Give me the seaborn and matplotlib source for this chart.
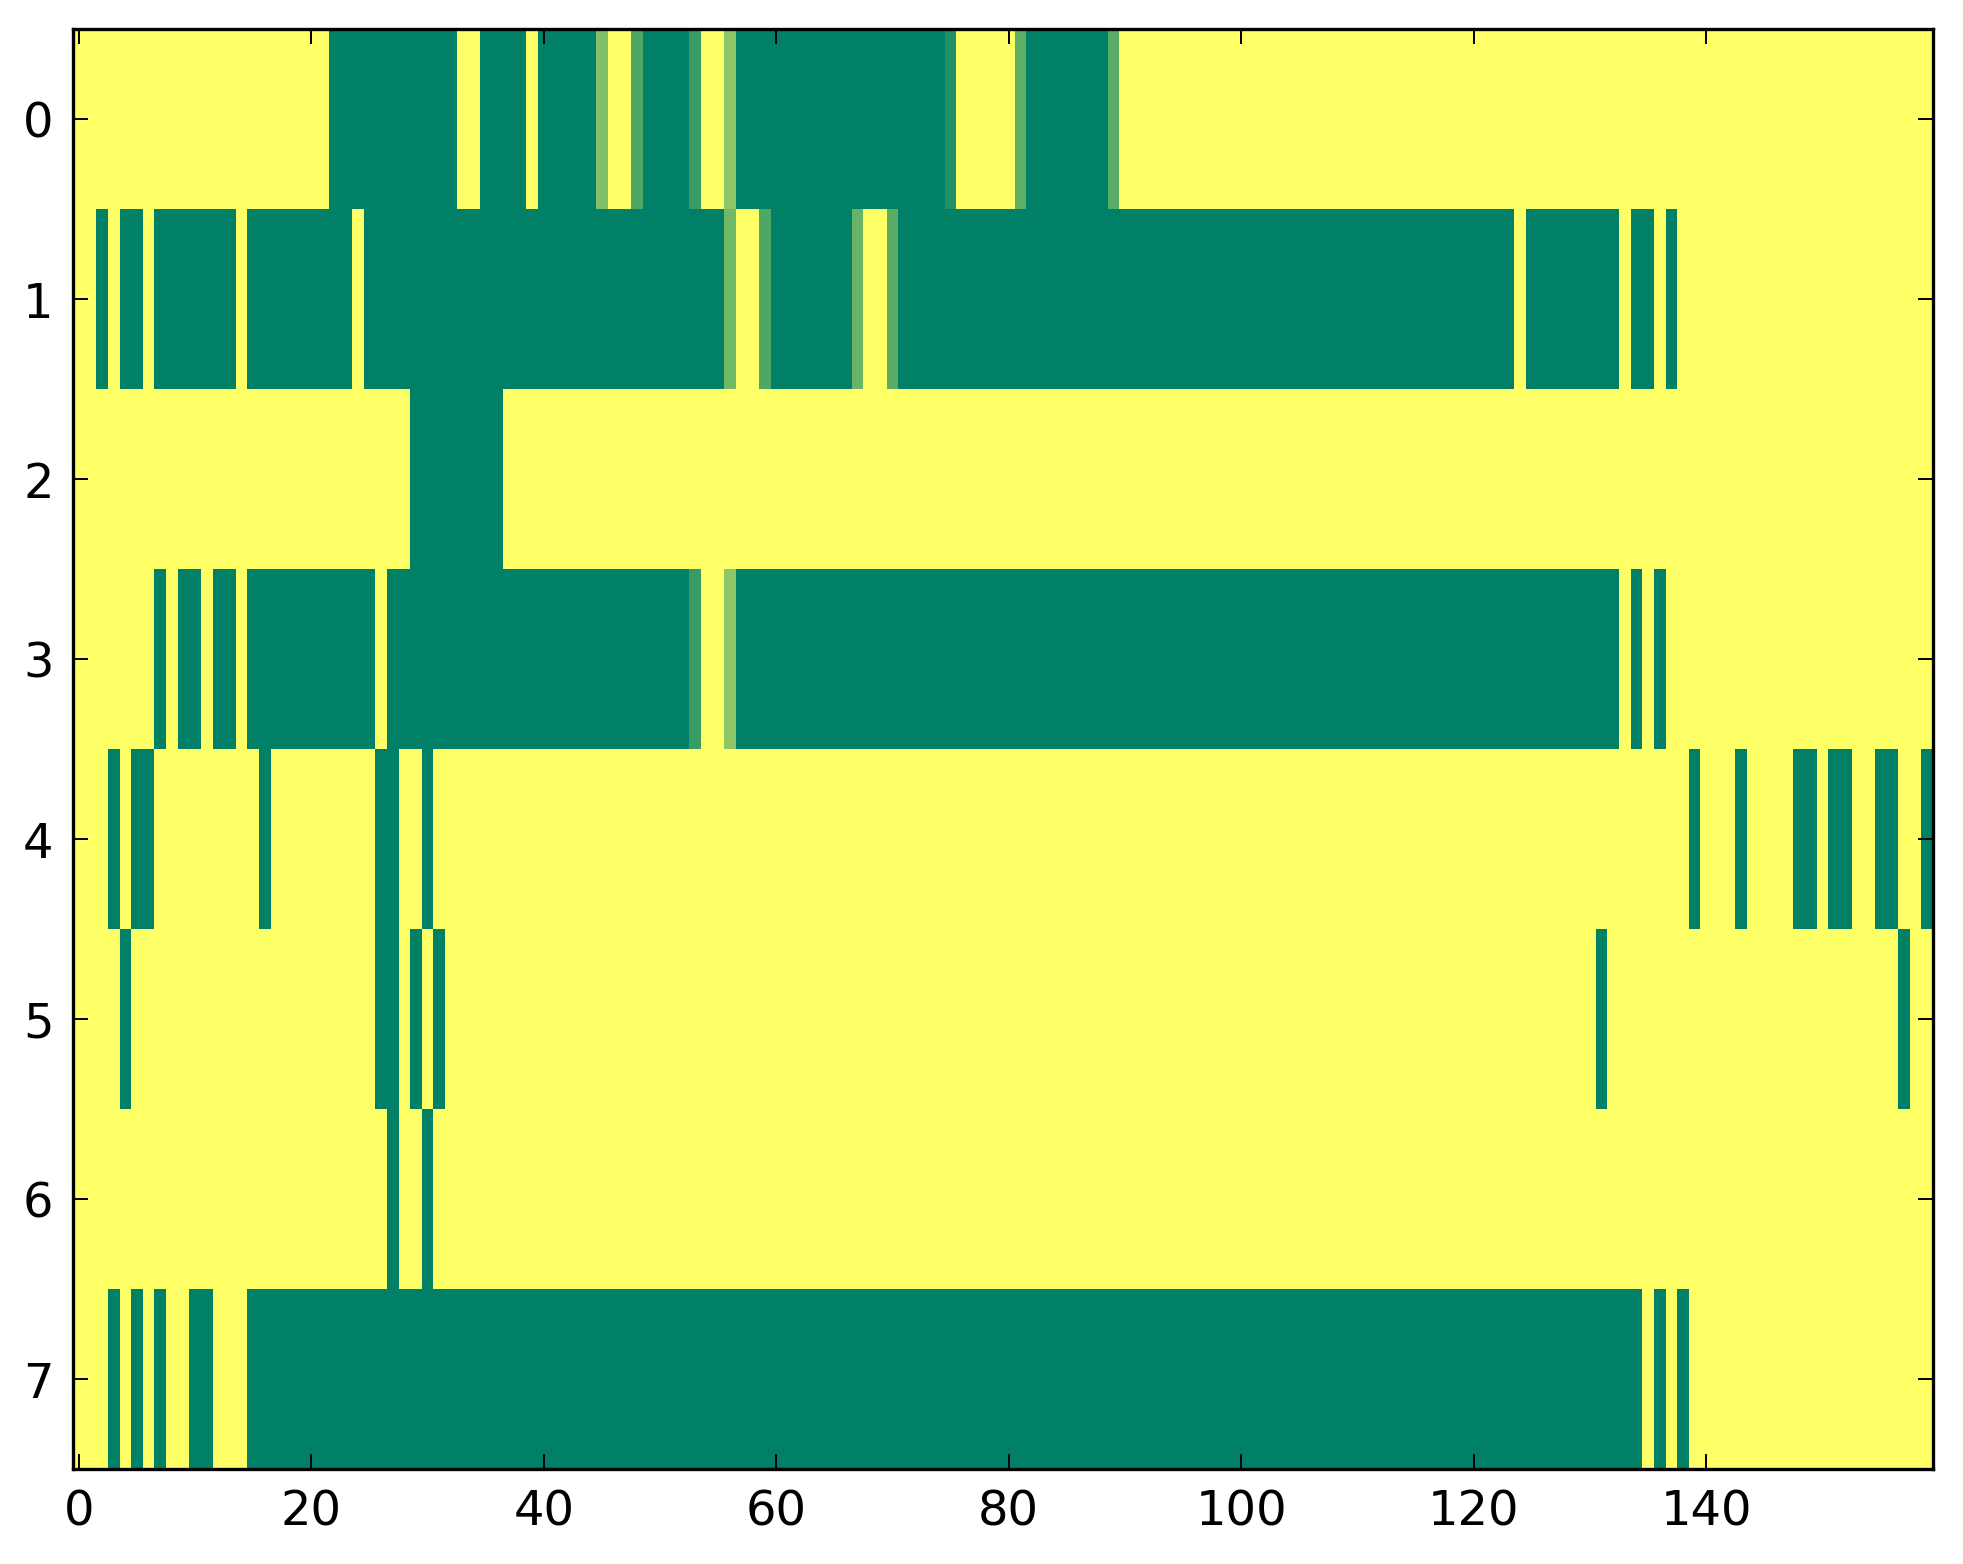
import numpy as np
import pandas as pd
import matplotlib
matplotlib.use("Agg")
import matplotlib.pyplot as plt
import seaborn as sns

# cell values (1 = yellow, 0 = green, in-between = lighter greens)
row0 = [1, 1, 1, 1, 1, 1, 1, 1, 1, 1, 1, 1, 1, 1, 1, 1, 1, 1, 1, 1,
        1, 1, 0, 0, 0, 0, 0, 0, 0, 0, 0, 0, 0, 1, 1, 0, 0, 0, 0, 1,
        0, 0, 0, 0, 0, .5, 1, 1, .3, 0, 0, 0, 0, .22, 1, 1, .55, 0, 0, 0,
        0, 0, 0, 0, 0, 0, 0, 0, 0, 0, 0, 0, 0, 0, 0, .13, 1, 1, 1, 1,
        1, .37, 0, 0, 0, 0, 0, 0, 0, .35, 1, 1, 1, 1, 1, 1, 1, 1, 1, 1,
        1, 1, 1, 1, 1, 1, 1, 1, 1, 1, 1, 1, 1, 1, 1, 1, 1, 1, 1, 1,
        1, 1, 1, 1, 1, 1, 1, 1, 1, 1, 1, 1, 1, 1, 1, 1, 1, 1, 1, 1,
        1, 1, 1, 1, 1, 1, 1, 1, 1, 1, 1, 1, 1, 1, 1, 1, 1, 1, 1, 1]
row1 = [1, 1, 0, 1, 0, 0, 1, 0, 0, 0, 0, 0, 0, 0, 1, 0, 0, 0, 0, 0,
        0, 0, 0, 0, 1, 0, 0, 0, 0, 0, 0, 0, 0, 0, 0, 0, 0, 0, 0, 0,
        0, 0, 0, 0, 0, 0, 0, 0, 0, 0, 0, 0, 0, 0, 0, 0, .44, 1, 1, .31,
        0, 0, 0, 0, 0, 0, 0, .41, 1, 1, .35, 0, 0, 0, 0, 0, 0, 0, 0, 0,
        0, 0, 0, 0, 0, 0, 0, 0, 0, 0, 0, 0, 0, 0, 0, 0, 0, 0, 0, 0,
        0, 0, 0, 0, 0, 0, 0, 0, 0, 0, 0, 0, 0, 0, 0, 0, 0, 0, 0, 0,
        0, 0, 0, 0, 1, 0, 0, 0, 0, 0, 0, 0, 0, 1, 0, 0, 1, 0, 1, 1,
        1, 1, 1, 1, 1, 1, 1, 1, 1, 1, 1, 1, 1, 1, 1, 1, 1, 1, 1, 1]
row2 = [1, 1, 1, 1, 1, 1, 1, 1, 1, 1, 1, 1, 1, 1, 1, 1, 1, 1, 1, 1,
        1, 1, 1, 1, 1, 1, 1, 1, 1, 0, 0, 0, 0, 0, 0, 0, 0, 1, 1, 1,
        1, 1, 1, 1, 1, 1, 1, 1, 1, 1, 1, 1, 1, 1, 1, 1, 1, 1, 1, 1,
        1, 1, 1, 1, 1, 1, 1, 1, 1, 1, 1, 1, 1, 1, 1, 1, 1, 1, 1, 1,
        1, 1, 1, 1, 1, 1, 1, 1, 1, 1, 1, 1, 1, 1, 1, 1, 1, 1, 1, 1,
        1, 1, 1, 1, 1, 1, 1, 1, 1, 1, 1, 1, 1, 1, 1, 1, 1, 1, 1, 1,
        1, 1, 1, 1, 1, 1, 1, 1, 1, 1, 1, 1, 1, 1, 1, 1, 1, 1, 1, 1,
        1, 1, 1, 1, 1, 1, 1, 1, 1, 1, 1, 1, 1, 1, 1, 1, 1, 1, 1, 1]
row3 = [1, 1, 1, 1, 1, 1, 1, 0, 1, 0, 0, 1, 0, 0, 1, 0, 0, 0, 0, 0,
        0, 0, 0, 0, 0, 0, 1, 0, 0, 0, 0, 0, 0, 0, 0, 0, 0, 0, 0, 0,
        0, 0, 0, 0, 0, 0, 0, 0, 0, 0, 0, 0, 0, .22, 1, 1, .55, 0, 0, 0,
        0, 0, 0, 0, 0, 0, 0, 0, 0, 0, 0, 0, 0, 0, 0, 0, 0, 0, 0, 0,
        0, 0, 0, 0, 0, 0, 0, 0, 0, 0, 0, 0, 0, 0, 0, 0, 0, 0, 0, 0,
        0, 0, 0, 0, 0, 0, 0, 0, 0, 0, 0, 0, 0, 0, 0, 0, 0, 0, 0, 0,
        0, 0, 0, 0, 0, 0, 0, 0, 0, 0, 0, 0, 0, 1, 0, 1, 0, 1, 1, 1,
        1, 1, 1, 1, 1, 1, 1, 1, 1, 1, 1, 1, 1, 1, 1, 1, 1, 1, 1, 1]
row4 = [1, 1, 1, 0, 1, 0, 0, 1, 1, 1, 1, 1, 1, 1, 1, 1, 0, 1, 1, 1,
        1, 1, 1, 1, 1, 1, 0, 0, 1, 1, 0, 1, 1, 1, 1, 1, 1, 1, 1, 1,
        1, 1, 1, 1, 1, 1, 1, 1, 1, 1, 1, 1, 1, 1, 1, 1, 1, 1, 1, 1,
        1, 1, 1, 1, 1, 1, 1, 1, 1, 1, 1, 1, 1, 1, 1, 1, 1, 1, 1, 1,
        1, 1, 1, 1, 1, 1, 1, 1, 1, 1, 1, 1, 1, 1, 1, 1, 1, 1, 1, 1,
        1, 1, 1, 1, 1, 1, 1, 1, 1, 1, 1, 1, 1, 1, 1, 1, 1, 1, 1, 1,
        1, 1, 1, 1, 1, 1, 1, 1, 1, 1, 1, 1, 1, 1, 1, 1, 1, 1, 1, 0,
        1, 1, 1, 0, 1, 1, 1, 1, 0, 0, 1, 0, 0, 1, 1, 0, 0, 1, 1, 0]
row5 = [1, 1, 1, 1, 0, 1, 1, 1, 1, 1, 1, 1, 1, 1, 1, 1, 1, 1, 1, 1,
        1, 1, 1, 1, 1, 1, 0, 0, 1, 0, 1, 0, 1, 1, 1, 1, 1, 1, 1, 1,
        1, 1, 1, 1, 1, 1, 1, 1, 1, 1, 1, 1, 1, 1, 1, 1, 1, 1, 1, 1,
        1, 1, 1, 1, 1, 1, 1, 1, 1, 1, 1, 1, 1, 1, 1, 1, 1, 1, 1, 1,
        1, 1, 1, 1, 1, 1, 1, 1, 1, 1, 1, 1, 1, 1, 1, 1, 1, 1, 1, 1,
        1, 1, 1, 1, 1, 1, 1, 1, 1, 1, 1, 1, 1, 1, 1, 1, 1, 1, 1, 1,
        1, 1, 1, 1, 1, 1, 1, 1, 1, 1, 1, 0, 1, 1, 1, 1, 1, 1, 1, 1,
        1, 1, 1, 1, 1, 1, 1, 1, 1, 1, 1, 1, 1, 1, 1, 1, 1, 0, 1, 1]
row6 = [1, 1, 1, 1, 1, 1, 1, 1, 1, 1, 1, 1, 1, 1, 1, 1, 1, 1, 1, 1,
        1, 1, 1, 1, 1, 1, 1, 0, 1, 1, 0, 1, 1, 1, 1, 1, 1, 1, 1, 1,
        1, 1, 1, 1, 1, 1, 1, 1, 1, 1, 1, 1, 1, 1, 1, 1, 1, 1, 1, 1,
        1, 1, 1, 1, 1, 1, 1, 1, 1, 1, 1, 1, 1, 1, 1, 1, 1, 1, 1, 1,
        1, 1, 1, 1, 1, 1, 1, 1, 1, 1, 1, 1, 1, 1, 1, 1, 1, 1, 1, 1,
        1, 1, 1, 1, 1, 1, 1, 1, 1, 1, 1, 1, 1, 1, 1, 1, 1, 1, 1, 1,
        1, 1, 1, 1, 1, 1, 1, 1, 1, 1, 1, 1, 1, 1, 1, 1, 1, 1, 1, 1,
        1, 1, 1, 1, 1, 1, 1, 1, 1, 1, 1, 1, 1, 1, 1, 1, 1, 1, 1, 1]
row7 = [1, 1, 1, 0, 1, 0, 1, 0, 1, 1, 0, 0, 1, 1, 1, 0, 0, 0, 0, 0,
        0, 0, 0, 0, 0, 0, 0, 0, 0, 0, 0, 0, 0, 0, 0, 0, 0, 0, 0, 0,
        0, 0, 0, 0, 0, 0, 0, 0, 0, 0, 0, 0, 0, 0, 0, 0, 0, 0, 0, 0,
        0, 0, 0, 0, 0, 0, 0, 0, 0, 0, 0, 0, 0, 0, 0, 0, 0, 0, 0, 0,
        0, 0, 0, 0, 0, 0, 0, 0, 0, 0, 0, 0, 0, 0, 0, 0, 0, 0, 0, 0,
        0, 0, 0, 0, 0, 0, 0, 0, 0, 0, 0, 0, 0, 0, 0, 0, 0, 0, 0, 0,
        0, 0, 0, 0, 0, 0, 0, 0, 0, 0, 0, 0, 0, 0, 0, 1, 0, 1, 0, 1,
        1, 1, 1, 1, 1, 1, 1, 1, 1, 1, 1, 1, 1, 1, 1, 1, 1, 1, 1, 1]

x_tick_values = [0, 20, 40, 60, 80, 100, 120, 140]
y_tick_values = [0, 1, 2, 3, 4, 5, 6, 7]

grid = pd.DataFrame([row0, row1, row2, row3, row4, row5, row6, row7])

sns.set_style("white")
plt.rcParams["font.family"] = ["DejaVu Sans"]

fig = plt.figure(figsize=(9.815, 7.82), dpi=200)
ax = fig.add_axes([0.0372, 0.0607, 0.9475, 0.9207])

sns.heatmap(grid, cmap="summer", vmin=0, vmax=1, cbar=False, ax=ax,
            xticklabels=False, yticklabels=False)

# heatmap puts cell centres at i + 0.5
ax.set_xticks(np.array(x_tick_values) + 0.5)
ax.set_xticklabels([str(v) for v in x_tick_values], rotation=0)
ax.set_yticks(np.array(y_tick_values) + 0.5)
ax.set_yticklabels([str(v) for v in y_tick_values], rotation=0)

ax.set_axisbelow(False)
ax.tick_params(which="major", direction="in", length=5.5, width=0.7,
               bottom=True, top=True, left=True, right=True,
               labelbottom=True, labelleft=True, labeltop=False, labelright=False,
               labelsize=17.3, pad=7, color="black", labelcolor="black")

for s in ax.spines.values():
    s.set_visible(True)
    s.set_color("black")
    s.set_linewidth(1.2)

fig.savefig("out.png", dpi=200)
